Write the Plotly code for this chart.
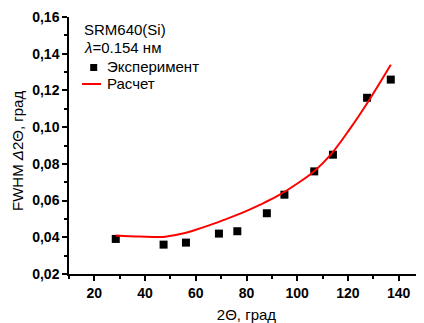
import plotly.graph_objects as go

# Experimental data
exp_x = [28.44, 47.30, 56.12, 69.13, 76.38, 88.03, 94.95, 106.71, 114.09, 127.55, 136.90]
exp_y = [0.0391, 0.0360, 0.0371, 0.0420, 0.0433, 0.0531, 0.0632, 0.0759, 0.0850, 0.1160, 0.1259]

# Calculated curve
calc_x = [28.4, 38.0, 47.1, 54.3, 60.0, 65.5, 72.0, 78.5, 85.0, 91.7, 100.8, 106.7, 113.3, 120.5, 127.7, 136.9]
calc_y = [0.0410, 0.0404, 0.0402, 0.0419, 0.0441, 0.0466, 0.0499, 0.0534, 0.0575, 0.0621, 0.0700, 0.0760, 0.0852, 0.0985, 0.1133, 0.1340]

x_ticks = [20, 40, 60, 80, 100, 120, 140]
y_ticks = [0.02, 0.04, 0.06, 0.08, 0.10, 0.12, 0.14, 0.16]
y_tick_labels = ["0,02", "0,04", "0,06", "0,08", "0,10", "0,12", "0,14", "0,16"]

FONT = "Liberation Sans, Arial, sans-serif"

fig = go.Figure()
fig.add_trace(go.Scatter(x=exp_x, y=exp_y, mode="markers", name="Эксперимент",
                         marker=dict(symbol="square", size=8, color="black")))
fig.add_trace(go.Scatter(x=calc_x, y=calc_y, mode="lines", name="Расчет",
                         line=dict(color="red", width=2, shape="spline", smoothing=1.0)))

axis_common = dict(showgrid=False, zeroline=False, showline=True, linecolor="black",
                   linewidth=1.5, ticks="outside", ticklen=5, tickwidth=1.5, tickcolor="black",
                   tickfont=dict(family=FONT, size=14, color="black", weight="bold"),
                   minor=dict(ticks="outside", ticklen=3, tickwidth=1.5, tickcolor="black"))

fig.update_xaxes(range=[10, 150], tickvals=x_ticks, minor_dtick=10, minor_tick0=10,
                 title=dict(text="2Θ, град", font=dict(family=FONT, size=15, color="black"), standoff=10),
                 **axis_common)
fig.update_yaxes(range=[0.02, 0.16], tickvals=y_ticks, ticktext=y_tick_labels,
                 minor_dtick=0.01, minor_tick0=0.01, **axis_common)

# page body has an 8px margin; plot area: left 69, top 17, bottom 274 in page pixels
OFF = 8
PL, PT, PB, PW = 69, 17, 274, 355
PH = PB - PT


def px(x):
    return (x - PL) / PW


def py(y):
    return 1 - (y - PT) / PH


ann_font = dict(family=FONT, size=15, color="black")


def label(text, x, y, **kw):
    d = dict(text=text, x=px(x), y=py(y), xref="paper", yref="paper",
             xanchor="left", yanchor="middle", showarrow=False, font=ann_font)
    d.update(kw)
    return d


fig.update_layout(
    width=424 - OFF, height=323 - OFF,
    margin=dict(l=PL - OFF, r=0, t=PT - OFF, b=323 - PB),
    plot_bgcolor="white", paper_bgcolor="white",
    showlegend=False,
    annotations=[
        label("SRM640(Si)", 82, 29),
        label("<i>λ</i>=0.154 нм", 82, 47.5),
        label("Эксперимент", 105, 66),
        label("Расчет", 105, 83.5),
        dict(text="FWHM <i>Δ</i>2Θ, град", x=px(17), y=py(151), xref="paper", yref="paper",
             xanchor="center", yanchor="middle", textangle=-90, showarrow=False, font=ann_font),
    ],
    shapes=[
        # legend samples
        dict(type="rect", xref="paper", yref="paper", x0=px(90.2), x1=px(97.2), y0=py(64), y1=py(71),
             fillcolor="black", line=dict(width=0)),
        dict(type="line", xref="paper", yref="paper", x0=px(82), x1=px(101), y0=py(84), y1=py(84),
             line=dict(color="red", width=2)),
    ],
)

fig.write_html("out.html")
